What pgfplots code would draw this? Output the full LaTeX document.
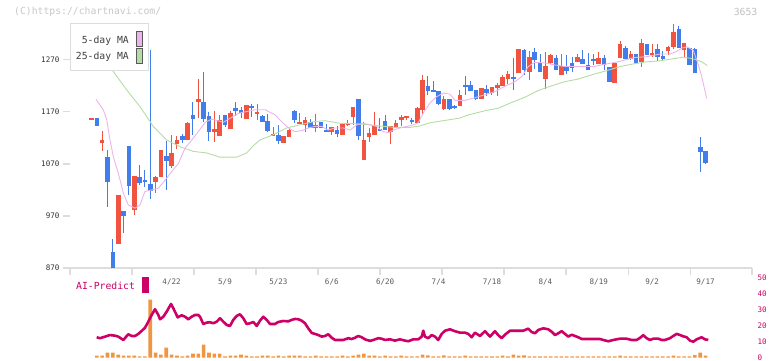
\documentclass[border=0pt]{standalone}
\usepackage{pgfplots}
\pgfplotsset{compat=1.18}
\usepackage{pgfplotstable}
\usepackage{fontspec}
\setmonofont{DejaVu Sans Mono}
\definecolor{cup}{HTML}{F05440}
\definecolor{cdn}{HTML}{417DEB}
\definecolor{cpink}{HTML}{EBB4EB}
\definecolor{cgreen}{HTML}{B4DCA5}
\definecolor{cmag}{HTML}{CC0066}
\definecolor{corange}{HTML}{F09640}
\definecolor{cgrid}{HTML}{DDDDDD}

\pgfplotstableread{
i o h l c
0 1155 1158 1155 1158
2 1111 1133 1094 1115
5 917 1010 917 1010
8 982 1047 972 1046
12 1036 1047 1014 1044
13 1044 1097 1044 1096
15 1066 1126 1062 1090
16 1108 1124 1098 1116
18 1115 1150 1115 1149
20 1188 1233 1158 1195
23 1132 1172 1113 1137
24 1124 1164 1124 1155
26 1137 1172 1137 1168
29 1157 1184 1157 1183
31 1167 1185 1155 1170
34 1124 1141 1124 1128
36 1110 1124 1110 1124
37 1121 1139 1121 1135
39 1147 1168 1147 1151
40 1145 1161 1132 1155
42 1139 1166 1132 1145
45 1132 1141 1126 1141
47 1126 1147 1126 1147
48 1145 1155 1142 1147
49 1160 1180 1145 1180
51 1078 1150 1078 1116
52 1122 1139 1112 1130
53 1126 1170 1126 1143
56 1132 1143 1108 1143
57 1139 1155 1139 1149
58 1155 1164 1143 1160
59 1158 1162 1155 1162
61 1149 1180 1149 1178
62 1174 1241 1164 1231
66 1176 1201 1174 1195
69 1181 1212 1181 1203
73 1195 1216 1195 1216
75 1206 1218 1203 1218
76 1216 1226 1201 1222
77 1220 1241 1220 1237
78 1233 1249 1224 1243
80 1245 1291 1245 1291
82 1247 1287 1231 1276
85 1233 1285 1214 1258
86 1264 1281 1261 1280
88 1241 1281 1241 1258
91 1266 1281 1266 1276
95 1262 1285 1262 1274
98 1226 1264 1226 1264
99 1274 1306 1274 1301
101 1272 1287 1270 1281
103 1266 1310 1256 1303
105 1280 1301 1276 1283
108 1287 1297 1280 1295
109 1295 1339 1291 1324
111 1289 1303 1276 1303
}\upcandles

\pgfplotstableread{
i o h l c
1 1158 1158 1142 1142
3 1083 1097 988 1036
4 901 926 850 866
6 980 980 938 969
7 1105 1105 1010 1028
9 1045 1068 1030 1034
10 1039 1058 1026 1036
11 1031 1288 1002 1017
14 1085 1113 1020 1076
17 1124 1128 1111 1116
19 1164 1188 1126 1156
21 1188 1246 1151 1157
22 1162 1170 1113 1132
25 1164 1164 1140 1145
27 1178 1188 1162 1172
28 1174 1180 1158 1168
30 1181 1185 1161 1178
32 1162 1164 1151 1151
33 1153 1166 1131 1134
35 1126 1145 1108 1114
38 1172 1174 1149 1155
41 1151 1156 1139 1139
43 1151 1151 1139 1139
44 1135 1146 1132 1132
46 1135 1142 1121 1128
50 1195 1195 1116 1124
54 1137 1158 1133 1134
55 1153 1164 1135 1135
60 1155 1158 1147 1151
63 1220 1239 1203 1210
64 1212 1230 1208 1208
65 1210 1210 1183 1185
67 1195 1195 1174 1176
68 1181 1183 1176 1178
70 1222 1238 1203 1218
71 1222 1230 1210 1210
72 1212 1212 1193 1195
74 1214 1222 1200 1206
79 1237 1274 1212 1233
81 1289 1291 1241 1251
83 1285 1293 1253 1270
84 1264 1281 1247 1247
87 1274 1280 1251 1251
89 1256 1280 1243 1249
90 1264 1276 1247 1255
92 1272 1289 1262 1262
93 1260 1283 1251 1251
94 1272 1281 1260 1268
96 1274 1280 1251 1260
97 1256 1256 1228 1228
100 1293 1297 1272 1272
102 1281 1281 1264 1264
104 1301 1301 1280 1280
106 1291 1301 1268 1276
107 1278 1287 1268 1272
110 1330 1335 1293 1293
112 1293 1293 1260 1260
113 1291 1293 1245 1245
114 1103 1122 1055 1093
115 1095 1095 1070 1072
}\downcandles

\pgfplotstableread{
i v
1 1.25
2 1.25
3 3.1
4 3.1
5 1.9
6 1.25
7 1.25
8 1.25
9 0.8
10 0.8
11 36.4
12 3.1
13 1.9
14 6.3
15 1.9
16 1.25
17 0.8
18 1.25
19 2.5
20 2.5
21 8.2
22 3.1
23 2.5
24 2.5
25 0.8
26 1.25
27 1.25
28 1.9
29 1.25
30 0.8
31 0.8
32 1.25
33 1.25
34 0.8
35 1.25
36 0.8
37 1.25
38 1.25
39 1.25
40 0.8
41 0.8
42 1.25
43 0.8
44 0.8
45 0.8
46 0.8
47 1.25
48 0.8
49 1.25
50 1.9
51 2.5
52 1.25
53 1.25
54 0.8
55 1.25
56 0.8
57 0.8
58 1.25
59 0.8
60 0.8
61 0.8
62 1.9
63 1.4
64 0.8
65 0.8
66 1.4
67 0.8
68 0.8
69 0.8
70 1.25
71 0.8
72 0.8
73 0.8
74 0.8
75 0.8
76 0.8
77 1.25
78 0.8
79 1.9
80 1.25
81 1.4
82 0.8
83 0.8
84 0.8
85 0.8
86 0.8
87 0.8
88 0.8
89 0.8
90 0.8
91 0.8
92 0.8
93 0.8
94 0.8
95 0.8
96 0.8
97 0.8
98 0.8
99 1.25
100 0.8
101 0.8
102 0.8
103 0.8
104 0.8
105 0.8
106 0.8
107 0.8
108 0.8
109 1.25
110 0.8
111 0.8
112 0.8
113 1.6
114 3.1
115 1.25
}\volume

\newcommand{\tickfont}{\ttfamily\fontsize{7.6}{8}\selectfont}
\newcommand{\bigfont}{\ttfamily\fontsize{9.8}{11}\selectfont}

\begin{document}
\begin{tikzpicture}[x=1bp,y=1bp]
\path[use as bounding box] (0bp,0bp) rectangle (772bp,361bp);

\begin{axis}[
  at={(70bp,93bp)}, anchor=south west, scale only axis,
  width=682bp, height=253bp,
  xmin=-4.03, xmax=123.7, ymin=870, ymax=1356,
  axis x line=bottom, axis y line=left,
  x axis line style={-, draw=cgrid, line width=1.5bp},
  y axis line style={draw=none},
  tick align=outside, major tick length=7bp,
  tick style={draw=cgrid, line width=1.3bp},
  xtick={-4.03,7.585,19.2,30.815,42.43,54.045,65.66,77.275,88.89,100.505,112.12,123.7},
  xticklabels={},
  extra x ticks={15,25,35,45,55,65,75,85,95,105,115},
  extra x tick labels={4/22,5/9,5/23,6/6,6/20,7/4,7/18,8/4,8/19,9/2,9/17},
  extra x tick style={major tick length=0pt, tick style={draw=none},
    tick label style={font=\tickfont, text=black!65, yshift=-7bp}},
  ytick={870,970,1070,1170,1270},
  yticklabel style={font=\tickfont, text=black!80},
  /pgf/number format/assume math mode=true,
  /pgf/number format/set thousands separator={},
]
% wicks
\addplot[draw=none, mark=none, forget plot,
  error bars/.cd, y dir=both, y explicit, error mark=none,
  error bar style={draw=cup, line width=1bp}]
  table[x=i, y expr=(\thisrow{h}+\thisrow{l})/2, y error expr=(\thisrow{h}-\thisrow{l})/2] {\upcandles};
\addplot[draw=none, mark=none, forget plot,
  error bars/.cd, y dir=both, y explicit, error mark=none,
  error bar style={draw=cdn, line width=1bp}]
  table[x=i, y expr=(\thisrow{h}+\thisrow{l})/2, y error expr=(\thisrow{h}-\thisrow{l})/2] {\downcandles};
% bodies
\addplot[draw=none, mark=none, forget plot,
  error bars/.cd, y dir=both, y explicit, error mark=none,
  error bar style={draw=cup, line width=4.6bp}]
  table[x=i, y expr=(\thisrow{o}+\thisrow{c})/2, y error expr=abs(\thisrow{c}-\thisrow{o})/2] {\upcandles};
\addplot[draw=none, mark=none, forget plot,
  error bars/.cd, y dir=both, y explicit, error mark=none,
  error bar style={draw=cdn, line width=4.6bp}]
  table[x=i, y expr=(\thisrow{o}+\thisrow{c})/2, y error expr=abs(\thisrow{c}-\thisrow{o})/2] {\downcandles};
% 25-day MA
\addplot[cgreen, line width=0.9bp, mark=none] coordinates {
(0,1300) (2,1275) (4.08,1247.5) (6.59,1212) (9.08,1180) (11.57,1142) (14.08,1116) (16.57,1103) (19.06,1094) (21.57,1091) (24.06,1083) (27.19,1083) (29.06,1091) (30.3,1105) (31.55,1116) (34.04,1126) (36.55,1139) (39.04,1145) (41.54,1151) (43.73,1153) (46.54,1148) (49.66,1147) (52.15,1145) (54.64,1142) (57.15,1140) (59.64,1140) (61.52,1143) (63.39,1149) (65.88,1153) (69.0,1158) (70.56,1164) (73.69,1172) (76.18,1177) (78.69,1188) (81.18,1198) (83.67,1211) (86.18,1220) (88.67,1228) (91.16,1233) (93.97,1242) (96.48,1249) (98.97,1257) (101.46,1262) (103.97,1266) (106.46,1268) (108.95,1272) (110.82,1275) (112.08,1273) (113.33,1270) (114.27,1266) (115.32,1259)
};
% 5-day MA
\addplot[cpink, line width=0.9bp, mark=none] coordinates {
(0.84,1194) (2.2,1174) (2.85,1155) (3.46,1116) (4.08,1084) (5.02,1052) (5.96,1014) (6.89,991) (8.15,985) (9.08,991) (10.0,1017) (11.3,1020) (12.5,1023) (13.8,1039) (15.0,1055) (16.3,1071) (17.5,1100) (18.8,1116) (20.0,1132) (21.3,1150) (22.5,1156) (24.7,1150) (27.5,1167) (30.6,1174) (32.5,1174) (34.4,1164) (35.6,1151) (36.9,1139) (38.1,1132) (39.4,1134) (40.6,1139) (41.9,1142) (43.1,1142) (44.3,1135) (45.6,1139) (47.2,1139) (48.4,1135) (49.7,1145) (50.9,1148) (52.2,1145) (53.4,1142) (54.6,1132) (55.6,1130) (56.5,1135) (57.8,1139) (59.0,1142) (60.3,1145) (61.2,1149) (62.1,1167) (63.4,1187) (64.6,1199) (65.9,1206) (67.1,1204) (68.1,1192) (69.9,1192) (71.8,1197) (73.7,1203) (75.6,1209) (77.4,1219) (79.3,1228) (80.6,1238) (81.8,1257) (83.0,1265) (84.9,1264) (86.8,1260) (88.7,1257) (90.5,1257) (92.4,1257) (94.0,1257) (96.5,1262) (99.0,1267) (101.5,1274) (104.0,1276) (106.5,1281) (108.3,1281) (109.6,1286) (110.5,1292) (111.5,1295) (112.7,1288) (113.6,1262) (114.2,1241) (114.7,1219) (115.2,1196)
};
\end{axis}

% legend
\draw[cgrid, line width=1bp, fill=white] (70bp,290bp) rectangle (148bp,337bp);
\node[anchor=east, inner sep=0pt, text=black!75, font=\bigfont] at (129bp,320bp) {5-day MA};
\node[anchor=east, inner sep=0pt, text=black!75, font=\bigfont] at (129bp,304bp) {25-day MA};
\draw[black!65, line width=0.8bp, fill=cpink] (136bp,314.3bp) rectangle (142.7bp,329.7bp);
\draw[black!65, line width=0.8bp, fill=cgreen] (136bp,297.7bp) rectangle (142.7bp,312.7bp);

% watermark and code
\node[anchor=west, inner sep=0pt, text=black!22, font=\bigfont] at (14bp,349bp) {(C)https://chartnavi.com/};
\node[anchor=east, inner sep=0pt, text=black!25, font=\bigfont] at (757.5bp,349bp) {3653};

% AI-Predict label
\node[anchor=west, inner sep=0pt, text=cmag, font=\bigfont] at (76bp,75bp) {AI-Predict};
\fill[cmag] (142.3bp,68.3bp) rectangle (149bp,83.7bp);

\begin{axis}[
  at={(70bp,0bp)}, anchor=south west, scale only axis,
  width=682bp, height=83bp,
  xmin=-4.03, xmax=123.7, ymin=-2.1, ymax=50,
  hide x axis,
  axis y line*=right, y axis line style={draw=none},
  ytick={0,10,20,30,40,50}, tick style={draw=none},
  yticklabel style={font=\tickfont, text=cmag, xshift=2bp},
  /pgf/number format/assume math mode=true,
]
\addplot[ybar, bar width=3.6bp, fill=corange, draw=none] table[x=i, y=v] {\volume};
\addplot[cmag, line width=2.6bp, line join=round, mark=none] coordinates {
(0.97,12.8) (1.59,12.2) (2.53,13.2) (3.46,14.2) (4.40,13.8) (5.02,13.2) (5.96,11.1) (6.89,14.7) (7.53,13.6) (8.15,13.6) (8.76,14.9) (9.40,16.8) (10.02,18.8) (10.64,22.6) (11.27,26.8) (11.89,30.4) (12.51,26.8) (12.83,24.1) (13.45,25.7) (14.08,28.9) (14.89,33.7) (15.32,31) (16.14,25.3) (16.89,26.6) (17.51,25.7) (18.13,24.1) (18.76,25.7) (19.38,26.8) (20.0,26.8) (20.32,25.7) (20.94,21.1) (21.57,22) (22.19,22.2) (22.81,21.6) (23.45,22.6) (24.06,24.7) (24.68,22.6) (25.32,20.5) (25.94,19.9) (26.55,23.7) (27.19,26.2) (27.81,27.2) (28.43,24.7) (29.06,21.1) (29.68,21.6) (30.3,22.4) (30.94,19.9) (31.55,23.2) (32.17,25.7) (32.81,23.7) (33.43,21.1) (34.36,21.1) (34.98,22.4) (35.92,23) (36.85,22.8) (37.49,23.7) (38.11,24.3) (38.73,24.1) (39.36,23.2) (39.98,21.6) (40.6,18.4) (41.24,15.5) (41.85,14.9) (42.47,14.2) (43.11,13.2) (43.73,13.6) (44.34,14.7) (44.98,12.5) (45.6,11.1) (46.22,11.1) (47.15,11.1) (48.09,12.2) (48.73,11.7) (49.34,12.5) (49.96,13.6) (50.6,12.8) (51.22,11.5) (52.15,10.5) (52.77,11.1) (53.71,12.2) (54.34,11.9) (54.96,11.1)
(55.9,11.5) (56.84,10.7) (57.77,11.5) (58.71,10.7) (59.33,10.3) (60.26,11.5) (61.2,11.5) (61.84,13.2) (62.13,16.9) (62.45,13.2) (63.07,12.2) (63.71,14.2) (64.33,13.2) (64.94,11.1) (65.58,14.9) (66.2,16.9) (67.13,17.8) (68.07,16.6) (69.0,15.7) (69.94,15.7) (70.56,14.9) (71.2,12.8) (71.82,15.7) (72.75,13.6) (73.69,16.6) (74.63,13.2) (75.56,16.6) (76.18,14.1) (76.82,12.2) (77.43,14.4) (78.37,16.9) (79.63,16.9) (80.86,16.9) (81.5,17.8) (81.8,18.2) (82.43,16.1) (83.05,15.3) (83.67,17.4) (84.61,18.4) (85.54,17.8) (86.18,16.3) (86.8,14.2) (87.42,15.3) (88.05,16.6) (88.67,14.9) (89.29,13.2) (89.93,14.4) (90.54,13.6) (91.16,12.8) (91.8,11.7) (92.73,11.7) (93.97,11.7) (95.22,11.7) (95.84,11.1) (96.78,10.3) (97.72,11.1) (98.97,11.9) (100.22,11.9) (101.16,11.1) (102.1,11.1) (102.72,12.4) (103.33,14.1) (103.97,12.2) (104.59,11.1) (105.21,11.9) (106.14,11.9) (106.78,11.1) (107.4,11.1) (108.33,12.2) (108.95,13.6) (109.59,14.9) (110.21,14.2) (110.82,13.4) (111.46,12.8) (112.08,10.7) (112.7,10.0) (113.33,11.5) (114.27,12.8) (114.89,11.5) (115.51,11.1)
};
\end{axis}
\end{tikzpicture}
\end{document}
